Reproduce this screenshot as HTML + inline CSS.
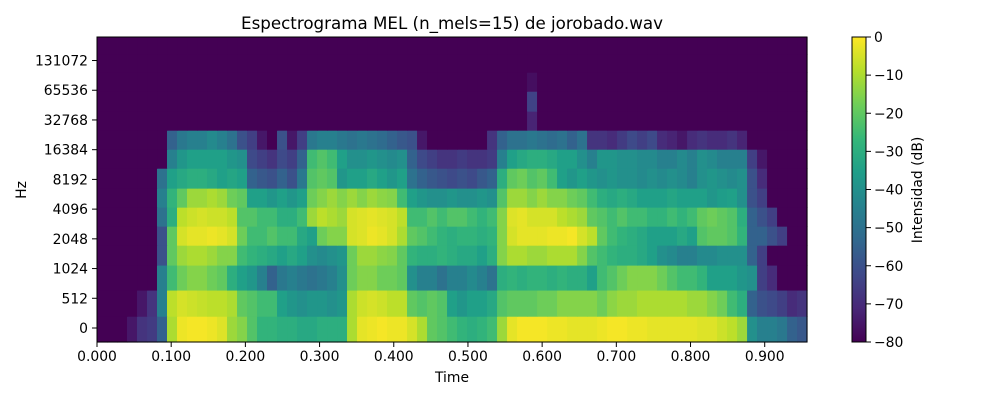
<!DOCTYPE html>
<html><head><meta charset="utf-8"><style>
body{margin:0;background:#fff;}
svg text{font-family:"DejaVu Sans","Liberation Sans",sans-serif;fill:#000;}
</style></head><body>
<svg id="chart" width="1000" height="400" viewBox="0 0 1000 400" xmlns="http://www.w3.org/2000/svg">
<defs><linearGradient id="vir" x1="0" y1="1" x2="0" y2="0"></linearGradient></defs>
<rect width="1000" height="400" fill="#fff"/>
<text x="452" y="29" font-size="16.7" text-anchor="middle">Espectrograma MEL (n_mels=15) de jorobado.wav</text>
<g id="cells"></g>
<rect x="97" y="37" width="710" height="305" fill="none" stroke="#000" stroke-width="1"/>
<g id="xaxis"></g>
<g id="yaxis"></g>
<text x="452" y="382" font-size="13.9" text-anchor="middle">Time</text>
<text transform="translate(26,190) rotate(-90)" font-size="13.9" text-anchor="middle">Hz</text>
<rect x="852" y="37" width="14" height="305" fill="url(#vir)" stroke="#000" stroke-width="1"/>
<g id="cbaxis"></g>
<text transform="translate(922,190) rotate(-90)" font-size="13.9" text-anchor="middle">Intensidad (dB)</text>
</svg>
<script>
const frameDuration = 0.01348;
const xTicks = [0,0.1,0.2,0.3,0.4,0.5,0.6,0.7,0.8,0.9];
const yTickLabels = ["0","512","1024","2048","4096","8192","16384","32768","65536","131072"];
const bandEdges = [-0.47,0.40,1.28,2.12,2.79,3.43,4.07,4.71,5.38,6.02,6.66,7.30,7.97,8.61,9.22,9.79];
const cbTicks = [0,-10,-20,-30,-40,-50,-60,-70,-80];
const band0 = [-80,-80,-80,-75,-68,-66,-55,-10,-2,-1,-1,-2,-4,-12,-15,-22,-28,-28,-30,-30,-32,-32,-30,-30,-30,-10,-3,-2,-1,-2,-2,-5,-10,-20,-22,-25,-28,-30,-28,-25,-12,-3,-1,-1,-1,-2,-2,-3,-3,-3,-2,-1,-1,-2,-2,-3,-3,-3,-3,-3,-4,-4,-6,-8,-12,-40,-45,-45,-48,-55,-58];
const band1 = [-80,-80,-80,-80,-75,-68,-45,-8,-5,-6,-7,-8,-8,-10,-20,-22,-25,-25,-35,-38,-40,-38,-38,-40,-38,-10,-6,-5,-6,-8,-8,-20,-22,-20,-22,-35,-38,-35,-35,-32,-22,-20,-20,-20,-18,-18,-15,-15,-15,-15,-18,-14,-12,-12,-10,-10,-10,-10,-10,-12,-12,-15,-18,-25,-30,-55,-60,-62,-65,-70,-68];
const band2 = [-80,-80,-80,-80,-80,-80,-45,-25,-18,-15,-15,-18,-20,-30,-35,-38,-45,-55,-48,-45,-48,-50,-48,-45,-40,-18,-15,-15,-18,-18,-20,-40,-45,-45,-50,-45,-45,-42,-45,-50,-30,-28,-30,-28,-28,-30,-28,-30,-30,-35,-25,-22,-18,-15,-15,-15,-18,-22,-25,-25,-28,-35,-35,-35,-38,-40,-65,-70,-80,-80,-80];
const band3 = [-80,-80,-80,-80,-80,-80,-60,-20,-12,-10,-10,-12,-15,-15,-25,-28,-30,-32,-35,-32,-35,-40,-42,-40,-38,-18,-12,-12,-14,-15,-20,-28,-30,-30,-28,-30,-32,-32,-35,-30,-15,-10,-10,-12,-12,-10,-10,-10,-15,-22,-25,-28,-30,-30,-32,-35,-40,-42,-45,-45,-42,-42,-40,-40,-40,-55,-65,-80,-80,-80,-80];
const band4 = [-80,-80,-80,-80,-80,-80,-60,-20,-5,-3,-3,-2,-3,-5,-18,-25,-25,-22,-25,-25,-32,-35,-18,-15,-15,-5,-4,-2,-3,-5,-10,-20,-22,-25,-28,-30,-28,-28,-30,-28,-15,-5,-3,-3,-3,-2,-2,-1,-5,-8,-20,-25,-28,-30,-32,-35,-35,-35,-32,-35,-22,-20,-20,-22,-28,-55,-55,-60,-65,-80,-80];
const band5 = [-80,-80,-80,-80,-80,-80,-50,-30,-8,-6,-5,-6,-6,-8,-22,-22,-25,-25,-30,-30,-25,-12,-8,-10,-12,-5,-4,-3,-4,-5,-8,-25,-25,-22,-25,-22,-22,-25,-28,-25,-15,-4,-3,-5,-5,-5,-8,-10,-12,-20,-22,-25,-22,-25,-25,-28,-28,-25,-28,-25,-20,-18,-20,-22,-30,-55,-60,-65,-80,-80,-80];
const band6 = [-80,-80,-80,-80,-80,-80,-45,-28,-20,-12,-12,-10,-12,-18,-20,-35,-35,-38,-35,-38,-35,-18,-15,-12,-15,-12,-15,-12,-14,-15,-25,-35,-38,-40,-40,-38,-40,-40,-38,-40,-22,-12,-12,-15,-12,-15,-15,-18,-20,-25,-30,-32,-30,-32,-35,-35,-35,-33,-35,-35,-35,-38,-36,-35,-40,-60,-65,-80,-80,-80,-80];
const band7 = [-80,-80,-80,-80,-80,-80,-50,-35,-32,-30,-30,-32,-35,-33,-35,-55,-58,-60,-55,-60,-48,-22,-20,-22,-38,-35,-35,-32,-35,-38,-35,-50,-55,-58,-60,-62,-60,-62,-58,-55,-30,-20,-18,-22,-20,-25,-35,-38,-35,-38,-40,-38,-40,-40,-42,-40,-42,-40,-42,-45,-40,-38,-40,-42,-40,-60,-70,-80,-80,-80,-80];
const band8 = [-80,-80,-80,-80,-80,-80,-80,-45,-38,-35,-35,-35,-35,-38,-40,-62,-65,-68,-62,-65,-55,-25,-22,-25,-35,-40,-40,-38,-40,-42,-40,-55,-62,-65,-68,-68,-66,-68,-68,-66,-45,-35,-32,-30,-30,-32,-35,-35,-40,-45,-38,-38,-40,-40,-42,-42,-45,-45,-42,-45,-40,-42,-45,-45,-45,-65,-75,-80,-80,-80,-80];
const band9 = [-80,-80,-80,-80,-80,-80,-80,-55,-48,-45,-45,-42,-45,-50,-60,-65,-75,-80,-60,-75,-65,-48,-45,-45,-48,-50,-48,-50,-52,-55,-58,-60,-75,-80,-80,-80,-80,-80,-80,-68,-55,-50,-50,-48,-50,-52,-50,-55,-50,-68,-68,-70,-66,-62,-65,-62,-70,-72,-75,-70,-68,-70,-70,-68,-72,-80,-80,-80,-80,-80,-80];
const band10 = [-80,-80,-80,-80,-80,-80,-80,-80,-80,-80, -80,-80,-80,-80,-80,-80,-80,-80,-80,-80, -80,-80,-80,-80,-80,-80,-80,-80,-80,-80, -80,-80,-80,-80,-80,-80,-80,-80,-80,-80, -80,-80,-80,-72,-80,-80,-80,-80,-80,-80, -80,-80,-80,-80,-80,-80,-80,-80,-80,-80, -80,-80,-80,-80,-80,-80,-80,-80,-80,-80, -80];
const band11 = [-80,-80,-80,-80,-80,-80,-80,-80,-80,-80, -80,-80,-80,-80,-80,-80,-80,-80,-80,-80, -80,-80,-80,-80,-80,-80,-80,-80,-80,-80, -80,-80,-80,-80,-80,-80,-80,-80,-80,-80, -80,-80,-80,-64,-80,-80,-80,-80,-80,-80, -80,-80,-80,-80,-80,-80,-80,-80,-80,-80, -80,-80,-80,-80,-80,-80,-80,-80,-80,-80, -80];
const band12 = [-80,-80,-80,-80,-80,-80,-80,-80,-80,-80, -80,-80,-80,-80,-80,-80,-80,-80,-80,-80, -80,-80,-80,-80,-80,-80,-80,-80,-80,-80, -80,-80,-80,-80,-80,-80,-80,-80,-80,-80, -80,-80,-80,-77,-80,-80,-80,-80,-80,-80, -80,-80,-80,-80,-80,-80,-80,-80,-80,-80, -80,-80,-80,-80,-80,-80,-80,-80,-80,-80, -80];
const band13 = [-80,-80,-80,-80,-80,-80,-80,-80,-80,-80, -80,-80,-80,-80,-80,-80,-80,-80,-80,-80, -80,-80,-80,-80,-80,-80,-80,-80,-80,-80, -80,-80,-80,-80,-80,-80,-80,-80,-80,-80, -80,-80,-80,-80,-80,-80,-80,-80,-80,-80, -80,-80,-80,-80,-80,-80,-80,-80,-80,-80, -80,-80,-80,-80,-80,-80,-80,-80,-80,-80, -80];
const band14 = [-80,-80,-80,-80,-80,-80,-80,-80,-80,-80, -80,-80,-80,-80,-80,-80,-80,-80,-80,-80, -80,-80,-80,-80,-80,-80,-80,-80,-80,-80, -80,-80,-80,-80,-80,-80,-80,-80,-80,-80, -80,-80,-80,-80,-80,-80,-80,-80,-80,-80, -80,-80,-80,-80,-80,-80,-80,-80,-80,-80, -80,-80,-80,-80,-80,-80,-80,-80,-80,-80, -80];
const bands = [band0,band1,band2,band3,band4,band5,band6,band7,band8,band9,band10,band11,band12,band13,band14];

const NS='http://www.w3.org/2000/svg';
const X0=97,X1=807,T0=0,T1=0.957;
const xScale=t=>X0+(t-T0)/(T1-T0)*(X1-X0);
const yScale=u=>328-u*29.72;
const cbScale=v=>37+(0-v)/80*305;
const vir=[[68,1,84],[72,40,120],[62,73,137],[49,104,142],[38,130,142],[31,158,137],[53,183,121],[110,206,88],[181,222,43],[253,231,37]];
function color(v){let t=Math.max(0,Math.min(1,(v+80)/80))*(vir.length-1);let i=Math.min(vir.length-2,Math.floor(t)),f=t-i;
const c=vir[i].map((a,k)=>Math.round(a+(vir[i+1][k]-a)*f));return `rgb(${c[0]},${c[1]},${c[2]})`;}
function mk(tag,attrs,parent){const e=document.createElementNS(NS,tag);for(const k in attrs)e.setAttribute(k,attrs[k]);parent.appendChild(e);return e;}

const grad=document.getElementById('vir');
vir.forEach((c,i)=>{mk('stop',{offset:(i/(vir.length-1)),'stop-color':`rgb(${c[0]},${c[1]},${c[2]})`},grad);});

const cells=document.getElementById('cells');
bands.forEach((row,b)=>{
  const yTop=yScale(bandEdges[b+1]),yBot=yScale(bandEdges[b]);
  row.forEach((v,c)=>{
    const xa=xScale(c*frameDuration),xb=Math.min(X1,xScale((c+1)*frameDuration));
    const r=mk('rect',{x:xa,y:yTop,width:xb-xa+0.6,height:yBot-yTop+0.6,fill:color(v)},cells);
    
    
  });
});

const xa=document.getElementById('xaxis');
xTicks.forEach(t=>{const x=xScale(t);
  const l=mk('line',{x1:x,x2:x,y1:342,y2:347,stroke:'#000'},xa);
  
  
  const tx=mk('text',{x:x,y:361,'font-size':13.9,'text-anchor':'middle'},xa);tx.textContent=t.toFixed(3);
  
  
});
const ya=document.getElementById('yaxis');
yTickLabels.forEach((lab,i)=>{const y=yScale(i);
  const l=mk('line',{x1:92,x2:97,y1:y,y2:y,stroke:'#000'},ya);
  
  
  const tx=mk('text',{x:88,y:y+5,'font-size':13.9,'text-anchor':'end'},ya);tx.textContent=lab;
  
  
});
const cb=document.getElementById('cbaxis');
cbTicks.forEach(v=>{const y=cbScale(v);
  const l=mk('line',{x1:866,x2:871,y1:y,y2:y,stroke:'#000'},cb);
  
  
  const tx=mk('text',{x:874,y:y+5,'font-size':13.9},cb);tx.textContent=v===0?'0':'\u2212'+Math.abs(v);
  
  
});
</script>
</body></html>
